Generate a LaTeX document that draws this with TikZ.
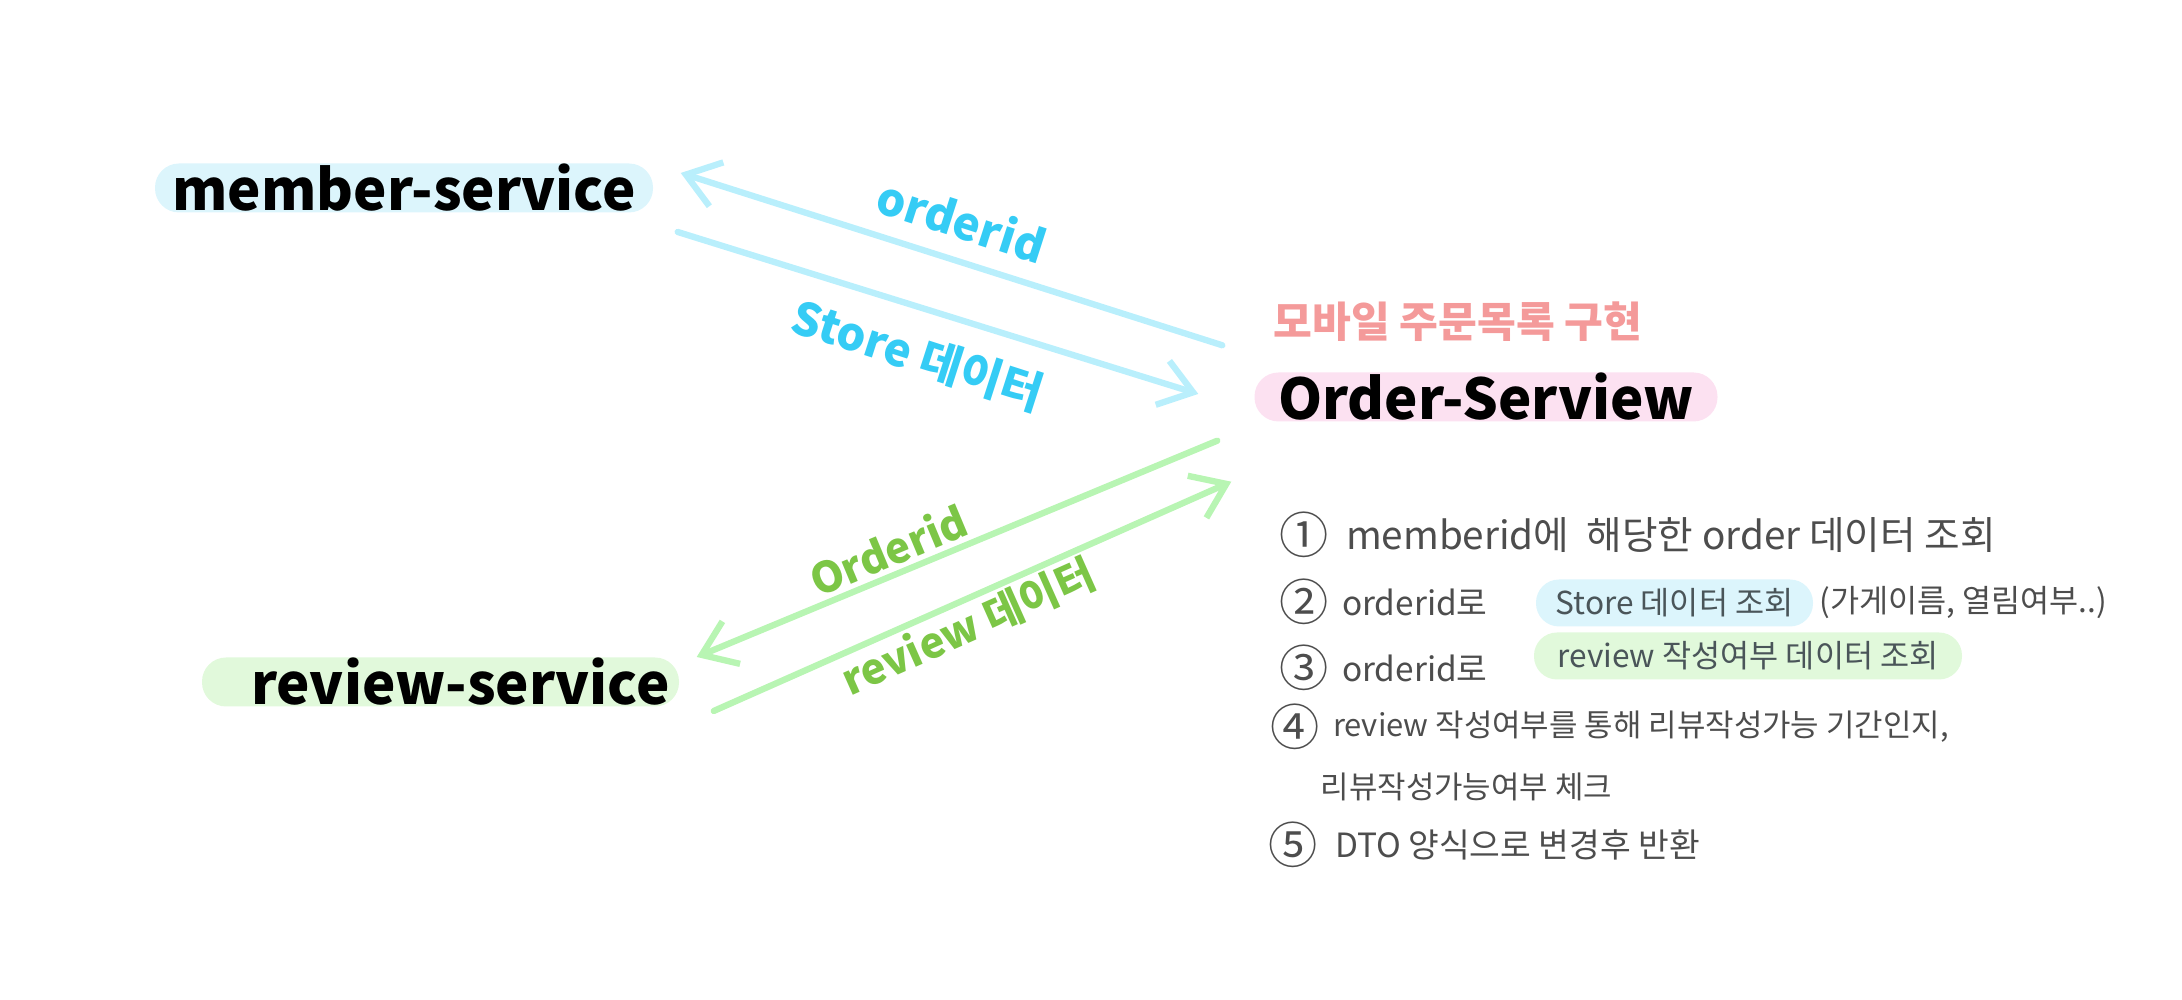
\documentclass[tikz,border=0pt]{standalone}
\usepackage{fontspec}
\setmainfont{Noto Sans CJK KR}
\usetikzlibrary{arrows.meta,positioning,calc}
\usepackage{xcolor}
\definecolor{inkGray}{HTML}{4D4D4D}
\definecolor{boxInk}{HTML}{4A5559}
\definecolor{memberBg}{HTML}{DCF5FC}
\definecolor{orderBg}{HTML}{FCE1F1}
\definecolor{reviewBg}{HTML}{E1F9DB}
\definecolor{lineBlue}{HTML}{B9EFFC}
\definecolor{lineGreen}{HTML}{B8F5B3}
\definecolor{textBlue}{HTML}{35CCF5}
\definecolor{textGreen}{HTML}{7CC646}
\definecolor{titlePink}{HTML}{F49A9A}
\tikzset{
  svc/.style={fill=#1, rounded corners=2.4mm, minimum height=0.49cm, inner sep=0pt,
    font=\fontsize{16}{18}\selectfont\bfseries, text=black},
  flow/.style={-{Straight Barb[length=3.2mm,width=4.6mm]}, line width=1.8pt,
    line cap=round, draw=#1},
  flowlbl/.style={font=\fontsize{13}{14}\selectfont\bfseries, text=#1, inner sep=0pt},
  num/.style={font=\fontsize{14}{14}\selectfont, text=inkGray, inner sep=0pt},
  item/.style={font=\fontsize{9}{11}\selectfont, text=inkGray, inner sep=0pt, anchor=west},
  hilite/.style={fill=#1, rounded corners=2.3mm, minimum height=0.47cm, inner sep=0pt,
    font=\fontsize{9}{10}\selectfont, text=boxInk}
}

\begin{document}
\begin{tikzpicture}[x=1cm,y=1cm]
  \useasboundingbox (0,0) rectangle (21.82,10);
  % services
  \node[svc=memberBg, minimum width=4.98cm] (member) at (4.04,8.12) {member-service};
  \node[svc=reviewBg, minimum width=4.77cm] (review) at (4.405,3.18) {\hspace*{0.4cm}review-service};
  \node[svc=orderBg, minimum width=4.63cm] (order) at (14.86,6.03) {Order-Serview};
  \node[font=\fontsize{12}{14}\selectfont\bfseries, text=titlePink, anchor=west, inner sep=0pt]
    (title) at (12.73,6.78) {모바일 주문목록 구현};

  % member <-> order
  \draw[flow=lineBlue] ($(order.north west)+(-0.315,0.265)$) -- ($(member.east)+(0.27,0.15)$);
  \draw[flow=lineBlue] ($(member.east)+(0.24,-0.44)$) -- ($(order.west)+(-0.555,0.03)$);
  \node[flowlbl=textBlue, rotate=-17.8] (lblOrderId) at (9.62,7.80) {orderid};
  \node[flowlbl=textBlue, rotate=-17.8] (lblStore) at (9.18,6.45) {Store 데이터};

  % review <-> order
  \draw[flow=lineGreen] ($(order.south west)+(-0.365,-0.185)$) -- ($(review.east)+(0.17,0.25)$);
  \draw[flow=lineGreen] ($(review.east)+(0.34,-0.29)$) -- ($(order.south west)+(-0.225,-0.595)$);
  \node[flowlbl=textGreen, font=\fontsize{12}{13}\selectfont\bfseries, rotate=22.7]
    (lblOrderId2) at (8.88,4.50) {Orderid};
  \node[flowlbl=textGreen, font=\fontsize{12}{13}\selectfont\bfseries, rotate=24]
    (lblReview) at (9.68,3.73) {review 데이터};

  % steps
  \node[num] (n1) at (13.04,4.65) {①};
  \node[item, font=\fontsize{11}{12}\selectfont, right=1.6mm of n1] (s1) {memberid에\ \ 해당한 order 데이터 조회};
  \node[num] (n2) at (13.04,3.98) {②};
  \node[item, font=\fontsize{9.5}{11}\selectfont, right=1.2mm of n2] (s2) {orderid로};
  \node[hilite=memberBg, minimum width=2.77cm] (storeQ) at (16.745,3.97) {Store 데이터 조회};
  \node[item, right=0.5mm of storeQ] (s2b) {(가게이름, 열림여부..)};
  \node[num] (n3) at (13.04,3.32) {③};
  \node[item, font=\fontsize{9.5}{11}\selectfont, right=1.2mm of n3] (s3) {orderid로};
  \node[hilite=reviewBg, minimum width=4.28cm] (reviewQ) at (17.48,3.44) {review 작성여부 데이터 조회};
  \node[num] (n4) at (12.95,2.73) {④};
  \node[item, font=\fontsize{8.8}{10}\selectfont, right=1.2mm of n4] (s4) {review 작성여부를 통해 리뷰작성가능 기간인지,};
  \node[item, font=\fontsize{8.8}{10}\selectfont] (s4b) at (13.20,2.13) {리뷰작성가능여부 체크};
  \node[num] (n5) at (12.93,1.55) {⑤};
  \node[item, font=\fontsize{9.5}{11}\selectfont, right=1.6mm of n5] (s5) {DTO 양식으로 변경후 반환};
\end{tikzpicture}
\end{document}
